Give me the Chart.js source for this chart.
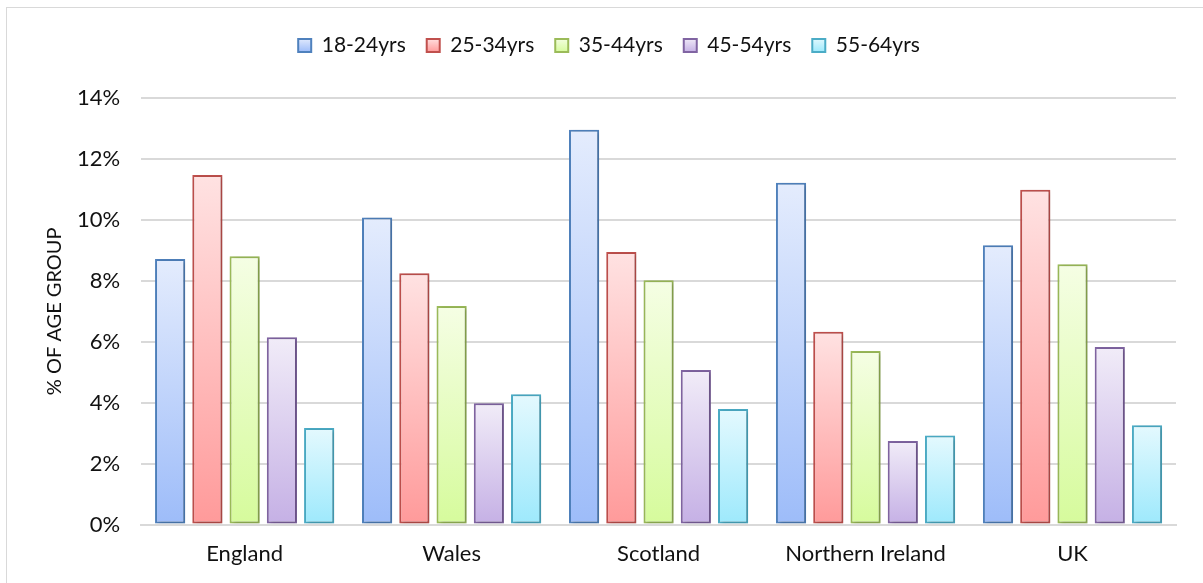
<!DOCTYPE html>
<html>
<head>
<meta charset="utf-8">
<script src="https://cdn.jsdelivr.net/npm/chart.js@4.4.0/dist/chart.umd.min.js"></script>
<style>
  html, body { margin: 0; padding: 0; background: #fff; overflow: hidden; }
  #frame { position: absolute; left: 6px; top: 7px; width: 1300px; height: 700px; border: 1px solid #d9d9d9; }
  #wrap { position: absolute; left: 0; top: 0; width: 1203px; height: 583px; }
</style>
</head>
<body>
<div id="frame"></div>
<div id="wrap"><canvas id="myChart" width="1203" height="583"></canvas></div>
<script>
//Data
const regions = ["England", "Wales", "Scotland", "Northern Ireland", "UK"];
const ageGroups = ["18-24yrs", "25-34yrs", "35-44yrs", "45-54yrs", "55-64yrs"];
const age18to24 = [8.72, 10.08, 12.96, 11.22, 9.17];
const age25to34 = [11.47, 8.25, 8.95, 6.33, 10.99];
const age35to44 = [8.81, 7.17, 8.02, 5.70, 8.54];
const age45to54 = [6.15, 3.98, 5.07, 2.74, 5.83];
const age55to64 = [3.17, 4.28, 3.79, 2.92, 3.26];
const yTicks = [0, 2, 4, 6, 8, 10, 12, 14];

//Colours (top of gradient, bottom of gradient, border)
const topColors = ["#e4ecfd", "#ffe2e2", "#f5fee4", "#f1ecf8", "#e4f9fe"];
const bottomColors = ["#9dbcf9", "#ff9a9a", "#d6fb9c", "#c5b0e5", "#9de9fc"];
const borderColors = ["#4f81bd", "#c0504d", "#9bbb59", "#8064a2", "#4bacc6"];

const FONT = "Lato, 'Liberation Sans', sans-serif";
const TEXT = "#111";

function barGradient(i) {
  return function (context) {
    const chart = context.chart;
    const yScale = chart.scales.y;
    if (!chart.chartArea || !yScale || context.parsed === undefined) return topColors[i];
    const top = yScale.getPixelForValue(context.parsed.y);
    const bottom = yScale.getPixelForValue(0);
    const g = chart.ctx.createLinearGradient(0, top, 0, bottom);
    g.addColorStop(0, topColors[i]);
    g.addColorStop(1, bottomColors[i]);
    return g;
  };
}

const seriesValues = [age18to24, age25to34, age35to44, age45to54, age55to64];
const datasets = [];
for (let i = 0; i < ageGroups.length; i++) {
  datasets.push({
    label: ageGroups[i],
    data: seriesValues[i],
    backgroundColor: barGradient(i),
    borderColor: borderColors[i],
    borderWidth: 2,
    borderSkipped: false,
    categoryPercentage: 0.9,
    barPercentage: 0.81,
  });
}

//Soft shadow behind the bars
const shadowPlugin = {
  id: "barShadow",
  beforeDatasetsDraw(chart) {
    const c = chart.ctx;
    c.save();
    c.shadowColor = "rgba(0,0,0,0.22)";
    c.shadowBlur = 4;
    c.shadowOffsetX = 2;
    c.shadowOffsetY = 1;
  },
  afterDatasetsDraw(chart) {
    chart.ctx.restore();
  },
};

//Extra gap under the legend
const legendGap = {
  id: "legendGap",
  beforeInit(chart) {
    const fit = chart.legend.fit;
    chart.legend.fit = function () {
      fit.bind(chart.legend)();
      this.height += 32;
    };
  },
};

const ctx = document.getElementById("myChart").getContext("2d");
const myChart = new Chart(ctx, {
  type: "bar",
  data: { labels: regions, datasets: datasets },
  plugins: [shadowPlugin, legendGap],
  options: {
    responsive: false,
    animation: false,
    layout: { padding: { left: 42, right: 27, top: 14, bottom: 0 } },
    plugins: {
      tooltip: { enabled: false },
      legend: {
        position: "top",
        labels: {
          font: { family: FONT, size: 21 },
          color: TEXT,
          boxWidth: 13,
          boxHeight: 13,
          padding: 21,
          generateLabels(chart) {
            return chart.data.datasets.map(function (ds, i) {
              const g = chart.ctx.createLinearGradient(0, 38, 0, 52);
              g.addColorStop(0, topColors[i]);
              g.addColorStop(1, bottomColors[i]);
              return {
                text: ds.label,
                fillStyle: g,
                strokeStyle: borderColors[i],
                lineWidth: 2,
                fontColor: TEXT,
                datasetIndex: i,
              };
            });
          },
        },
      },
    },
    scales: {
      x: {
        grid: { display: false, drawTicks: false },
        border: { display: true, color: "#d9d9d9", width: 2 },
        ticks: { font: { family: FONT, size: 22 }, color: TEXT, padding: 16 },
      },
      y: {
        min: 0,
        max: 14,
        afterBuildTicks(scale) {
          scale.ticks = yTicks.map(function (v) { return { value: v }; });
        },
        grid: { color: "#d9d9d9", lineWidth: 2, drawTicks: false },
        border: { display: false },
        ticks: {
          font: { family: FONT, size: 22 },
          color: TEXT,
          padding: 21,
          callback: function (v) { return v + "%"; },
        },
        title: {
          display: true,
          text: "% OF AGE GROUP",
          font: { family: FONT, size: 20 },
          color: TEXT,
          padding: { top: 1, bottom: -11 },
        },
      },
    },
  },
});
</script>
</body>
</html>
